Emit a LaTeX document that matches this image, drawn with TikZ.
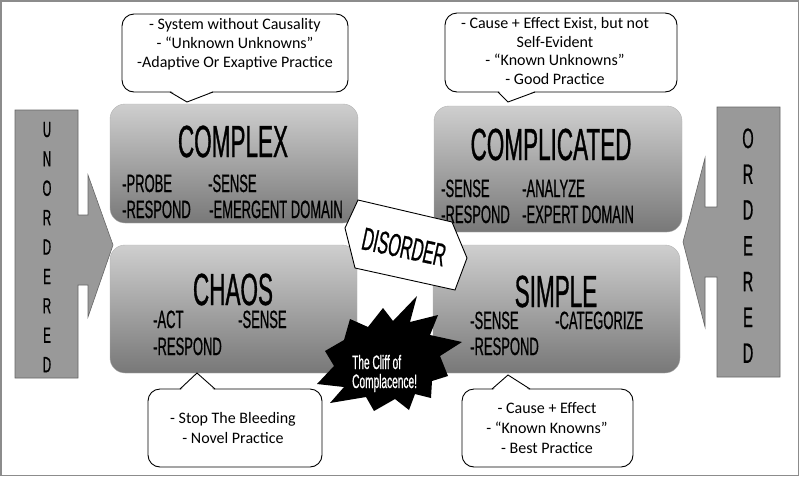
\documentclass[tikz,border=0pt]{standalone}
\usepackage{fontspec}
\setmainfont{Carlito}
\newfontfamily\titlef[FakeStretch=0.5,FakeBold=0.7]{Liberation Sans}
\newfontfamily\subf[FakeStretch=0.52,FakeBold=0.7]{Liberation Sans}
\begin{document}
\begin{tikzpicture}[x=1pt,y=-1pt,
  dombox/.style={rounded corners=15pt, top color=black!19, bottom color=black!53, draw=black!30, line width=0.4pt},
  bubble/.style={draw=black, line width=0.9pt, fill=white, rounded corners=12pt},
  ptr/.style={draw=black, line width=0.9pt, line join=miter},
  ttl/.style={font=\titlef\fontsize{45}{45}\selectfont, anchor=base, inner sep=0pt},
  sub/.style={font=\subf\fontsize{25}{25}\selectfont, anchor=base west, inner sep=0pt},
  ctext/.style={font=\fontsize{16}{19}\selectfont, anchor=base, inner sep=0pt},
  sidearrow/.style={fill=black!40, draw=black!60, line width=0.6pt},
  vlet/.style={font=\subf\fontsize{22}{22}\selectfont, anchor=base, inner sep=0pt},
  vletb/.style={font=\subf\fontsize{28}{28}\selectfont, anchor=base, inner sep=0pt},
  cliff/.style={font=\subf\fontsize{19.5}{19.5}\selectfont, text=white, anchor=base west, inner sep=0pt},
]
\useasboundingbox (0,0) rectangle (800,477);
\draw[black!45, line width=1.5pt] (0.8,0.8) rectangle (798.6,475.6);

% side arrows
\draw[sidearrow] (15,110) -- (78,110) -- (78,215) -- (88,215) -- (88,175) -- (113,245) -- (88,317) -- (88,285) -- (78,285) -- (78,378) -- (15,378) -- cycle;
\draw[sidearrow] (780,107) -- (717,107) -- (717,207) -- (705,207) -- (705,158) -- (683,242) -- (705,327) -- (705,277) -- (717,277) -- (717,377) -- (780,377) -- cycle;
\foreach \l [count=\i] in {U,N,O,R,D,E,R,E,D}
  \node[vlet] (u\i) at (47,{137+29.4*(\i-1)}) {\l};
\foreach \l [count=\i] in {O,R,D,E,R,E,D}
  \node[vletb] (o\i) at (748,{148+35.8*(\i-1)}) {\l};

% domain boxes
\path[dombox] (110,104) rectangle (358,223);
\path[dombox] (434,106) rectangle (682,232);
\path[dombox] (110,245) rectangle (357,373);
\path[dombox] (433,245) rectangle (680,373);

\node[ttl] (complex) at (233,157) {COMPLEX};
\node[sub] (c1) at (122,192) {-PROBE};
\node[sub] (c2) at (208,192) {-SENSE};
\node[sub] (c3) at (122,218) {-RESPOND};
\node[sub] (c4) at (209,218) {-EMERGENT DOMAIN};

\node[ttl] (complicated) at (551,160) {COMPLICATED};
\node[sub] (d1) at (441,197) {-SENSE};
\node[sub] (d2) at (522,197) {-ANALYZE};
\node[sub] (d3) at (441,223) {-RESPOND};
\node[sub] (d4) at (522,223) {-EXPERT DOMAIN};

\node[ttl] (chaos) at (233,305) {CHAOS};
\node[sub] (h1) at (153,328) {-ACT};
\node[sub] (h2) at (238,328) {-SENSE};
\node[sub] (h3) at (153,355) {-RESPOND};

\node[ttl] (simple) at (556,307) {SIMPLE};
\node[sub] (s1) at (470,329) {-SENSE};
\node[sub] (s2) at (555,329) {-CATEGORIZE};
\node[sub] (s3) at (470,355) {-RESPOND};

% callouts
\path[bubble] (122,14) rectangle (348,92);
\fill[white] (171,91) -- (187,102) -- (213,91) -- cycle;
\draw[ptr] (170,92) -- (187,102) -- (213,92);
\node[ctext] (tl1) at (235,29) {- System without Causality};
\node[ctext] (tl2) at (235,48) {- “Unknown Unknowns”};
\node[ctext] (tl3) at (235,67) {-Adaptive Or Exaptive Practice};

\path[bubble] (445,13) rectangle (677,92);
\fill[white] (499,91) -- (508,102) -- (535,91) -- cycle;
\draw[ptr] (498,92) -- (508,102) -- (535,92);
\node[ctext] (tr1) at (555,28) {- Cause + Effect Exist, but not};
\node[ctext] (tr2) at (555,47) {Self-Evident};
\node[ctext] (tr3) at (555,65) {- “Known Unknowns”};
\node[ctext] (tr4) at (555,84) {- Good Practice};

\path[bubble] (148,389) rectangle (322,467);
\fill[white] (181,390) -- (197,373) -- (214,390) -- cycle;
\draw[ptr] (180,389) -- (197,373) -- (215,389);
\node[ctext] (bl1) at (233,423) {- Stop The Bleeding};
\node[ctext] (bl2) at (233,443) {- Novel Practice};

\path[bubble] (462,389) rectangle (633,467);
\fill[white] (493,390) -- (508,375) -- (529,390) -- cycle;
\draw[ptr] (492,389) -- (508,375) -- (530,389);
\node[ctext] (br1) at (547,413) {- Cause + Effect};
\node[ctext] (br2) at (547,433) {- “Known Knowns”};
\node[ctext] (br3) at (547,453) {- Best Practice};

% disorder
\draw[fill=white, line width=0.9pt] (358,200) -- (452,222) -- (467,258) -- (455,290) -- (355,268) -- (345,228) -- cycle;
\node[font=\titlef\fontsize{32}{32}\selectfont, rotate=-12, inner sep=0pt] (dis) at (404,247) {DISORDER};

% cliff star
\fill[black] (417,296) -- (410,322) -- (438,315) -- (430,335) -- (462,342) -- (440,356) -- (448,376) -- (432,381) -- (431,398) -- (415,394) -- (409,410) -- (395,399) -- (374,411) -- (366,397) -- (330,403) -- (344,387) -- (317,384) -- (334,366) -- (325,351) -- (344,340) -- (350,319) -- (368,327) -- (383,308) -- (393,321) -- cycle;
\node[cliff] (cl1) at (352,369) {The Cliff of};
\node[cliff] (cl2) at (352,388) {Complacence!};
\end{tikzpicture}
\end{document}
